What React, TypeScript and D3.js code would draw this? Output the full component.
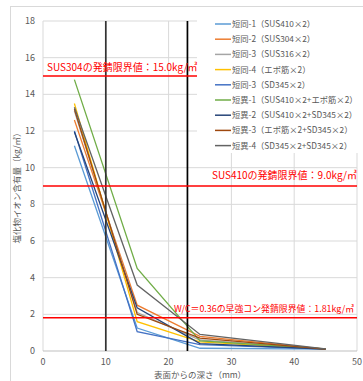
import React, { useRef, useEffect } from 'react'
import * as d3 from 'd3'

const depths = [5, 15, 25, 45]

const seriesNames = [
  '短同-1（SUS410×2）',
  '短同-2（SUS304×2）',
  '短同-3（SUS316×2）',
  '短同-4（エポ筋×2）',
  '短同-3（SD345×2）',
  '短異-1（SUS410×2+エポ筋×2）',
  '短異-2（SUS410×2+SD345×2）',
  '短異-3（エポ筋×2+SD345×2）',
  '短異-4（SD345×2+SD345×2）',
]

const seriesValues = [
  [11.2, 1.25, 0.15, 0.1],
  [12.6, 2.5, 0.8, 0.1],
  [13.1, 2.1, 0.6, 0.1],
  [13.5, 1.6, 0.5, 0.1],
  [12.0, 1.05, 0.35, 0.1],
  [14.8, 4.5, 0.55, 0.12],
  [11.95, 2.35, 0.4, 0.1],
  [13.2, 2.0, 0.7, 0.1],
  [13.3, 3.6, 0.9, 0.12],
]

const seriesColors = ['#5B9BD5', '#ED7D31', '#A5A5A5', '#FFC000', '#4472C4', '#70AD47', '#264478', '#9E480E', '#636363']

const limitValues = [15.0, 9.0, 1.81]
const limitLabels = [
  'SUS304の発錆限界値：15.0kg/㎥',
  'SUS410の発錆限界値：9.0kg/㎥',
  'W/C＝0.36の早強コン発錆限界値：1.81kg/㎥',
]
const markerDepths = [10, 23]

const yTicks = [0, 2, 4, 6, 8, 10, 12, 14, 16, 18]
const xTicks = [0, 10, 20, 30, 40, 50]

function App() {
  const ref = useRef<SVGSVGElement>(null)

  useEffect(() => {
    const width = 363
    const height = 381
    const m = { left: 43, right: 6, top: 21, bottom: 30 }
    const font = '"Noto Sans CJK JP", "Noto Sans", sans-serif'

    const svg = d3.select(ref.current)
    svg.selectAll('*').remove()

    const x = d3.scaleLinear().domain([0, 50]).range([m.left, width - m.right])
    const y = d3.scaleLinear().domain([0, 18]).range([height - m.bottom, m.top])

    svg.append('rect').attr('x', 0).attr('y', 0).attr('width', width).attr('height', height).attr('fill', '#fff')
    // chart border
    svg.append('rect').attr('x', 10.5).attr('y', 6.5).attr('width', width + 5).attr('height', height + 5)
      .attr('fill', 'none').attr('stroke', '#d9d9d9')

    // grid
    svg.append('g').selectAll('line').data(yTicks.slice(1)).join('line')
      .attr('x1', x(0)).attr('x2', x(50))
      .attr('y1', d => y(d)).attr('y2', d => y(d))
      .attr('stroke', '#d9d9d9').attr('stroke-width', 1)
    svg.append('g').selectAll('line').data(xTicks).join('line')
      .attr('x1', d => x(d)).attr('x2', d => x(d))
      .attr('y1', y(0)).attr('y2', y(18))
      .attr('stroke', '#d9d9d9').attr('stroke-width', 1)
    svg.append('line').attr('x1', x(0)).attr('x2', x(50)).attr('y1', y(0)).attr('y2', y(0))
      .attr('stroke', '#bfbfbf')

    // tick labels
    svg.append('g').selectAll('text').data(yTicks).join('text')
      .attr('x', 35).attr('y', d => y(d) + 3)
      .attr('text-anchor', 'end').attr('font-size', 9).attr('fill', '#595959')
      .attr('font-family', font).text(d => d)
    svg.append('g').selectAll('text').data(xTicks).join('text')
      .attr('x', d => x(d)).attr('y', y(0) + 14)
      .attr('text-anchor', 'middle').attr('font-size', 9).attr('fill', '#595959')
      .attr('font-family', font).text(d => d)

    // axis titles
    svg.append('text').attr('x', (x(0) + x(50)) / 2).attr('y', 378)
      .attr('text-anchor', 'middle').attr('font-size', 8.5).attr('fill', '#595959')
      .attr('font-family', font).text('表面からの深さ（mm）')
    svg.append('text').attr('transform', `translate(20,${y(9)}) rotate(-90)`)
      .attr('text-anchor', 'middle').attr('font-size', 8.5).attr('fill', '#595959')
      .attr('font-family', font).text('塩化物イオン含有量（kg/㎥）')

    // series lines
    const line = d3.line<number>().x((_, i) => x(depths[i])).y(d => y(d))
    svg.append('g').selectAll('path').data(seriesValues).join('path')
      .attr('d', d => line(d))
      .attr('fill', 'none')
      .attr('stroke', (_, i) => seriesColors[i])
      .attr('stroke-width', 1.3)

    // vertical marker lines
    svg.append('g').selectAll('line').data(markerDepths).join('line')
      .attr('x1', d => x(d)).attr('x2', d => x(d))
      .attr('y1', y(0)).attr('y2', y(18))
      .attr('stroke', (_, i) => (i === 0 ? '#333' : '#000'))
      .attr('stroke-width', 1.7)

    // legend box
    const lgX = 197
    const lgY = 14
    svg.append('rect').attr('x', lgX).attr('y', lgY).attr('width', x(50) - lgX + 1).attr('height', 139)
      .attr('fill', '#fff')
    const lg = svg.append('g').selectAll('g').data(seriesNames).join('g')
      .attr('transform', (_, i) => `translate(215,${24 + i * 15.2})`)
    lg.append('line').attr('x1', 0).attr('x2', 16).attr('y1', 0).attr('y2', 0)
      .attr('stroke', (_, i) => seriesColors[i]).attr('stroke-width', 1.5)
    lg.append('text').attr('x', 17).attr('y', 3)
      .attr('font-size', 8.3).attr('fill', '#595959').attr('font-family', font)
      .text(d => d)

    // limit lines
    const limitEnds = [lgX, x(50), x(50)]
    svg.append('g').selectAll('line').data(limitValues).join('line')
      .attr('x1', x(0)).attr('x2', (_, i) => limitEnds[i])
      .attr('y1', d => y(d)).attr('y2', d => y(d))
      .attr('stroke', '#ff0000').attr('stroke-width', 1.5)

    const labelPos = [
      { x: 47, y: y(15) - 5, size: 10, anchor: 'start' },
      { x: x(50), y: y(9) - 7, size: 10, anchor: 'end' },
      { x: 174, y: y(1.81) - 6, size: 8.9, anchor: 'start' },
    ]
    svg.append('g').selectAll('text').data(limitLabels).join('text')
      .attr('x', (_, i) => labelPos[i].x).attr('y', (_, i) => labelPos[i].y)
      .attr('text-anchor', (_, i) => labelPos[i].anchor)
      .attr('font-size', (_, i) => labelPos[i].size).attr('fill', '#ff0000').attr('font-family', font)
      .text(d => d)
  }, [])

  return (
    <svg ref={ref} width={363} height={381}
      style={{ position: 'absolute', left: 0, top: 0, display: 'block' }} />
  )
}

export default App
